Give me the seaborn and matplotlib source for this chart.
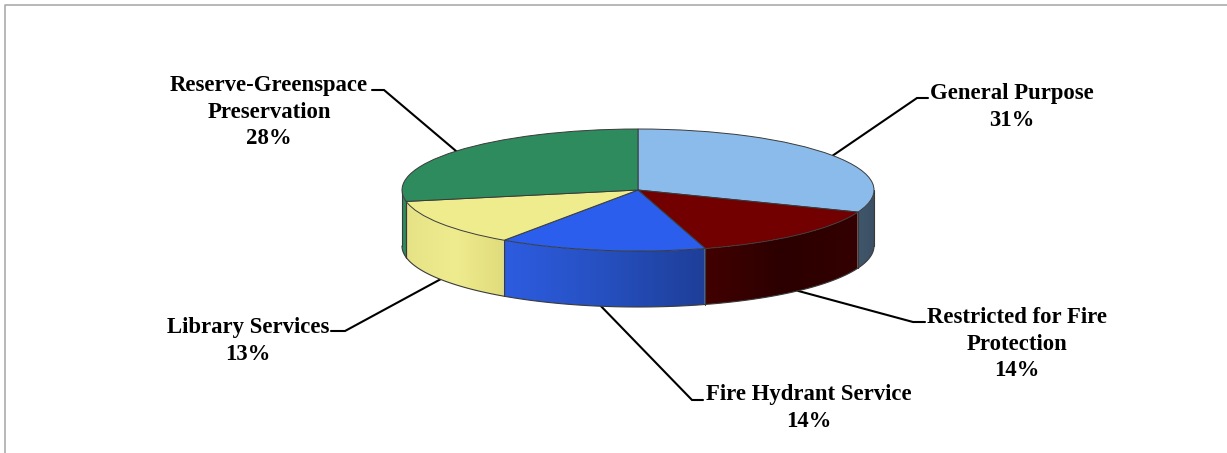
import matplotlib
matplotlib.use("Agg")
import matplotlib.pyplot as plt
from matplotlib.patches import Polygon
import numpy as np
import pandas as pd
import seaborn as sns

# --- Data ---
categories = ["General Purpose", "Restricted for Fire\nProtection", "Fire Hydrant Service",
              "Library Services", "Reserve-Greenspace\nPreservation"]
shares = [30.9, 14.5, 14.2, 12.4, 28.0]
share_labels = ["31%", "14%", "14%", "13%", "28%"]

# --- Style ---
top_colors = ["#8BBBEB", "#720000", "#2B5EEC", "#EEEC8C", "#2E8B5E"]
# left to right shading of the rim for each slice
side_colors = [["#3F566C", "#3C5064"],
               ["#420000", "#2C0000", "#330000"],
               ["#2D5CE0", "#2650C0", "#1E3E98"],
               ["#E6E386", "#EFEC8F", "#E0DC7C"],
               ["#2E8B5E", "#2E8B5E"]]
edge_color = "#3A3A3A"

# pixel layout of the picture
W, H = 1227, 453
CX, CY, RX, RY, DEPTH = 638, 190, 236, 61, 56
label_pos = [(1012, 107), (1017, 344), (809, 408), (248, 341), (269, 112)]
elbows = [[(928, 98), (917, 98)], [(925, 322), (913, 322)], [(703, 400), (692, 400)],
          [(331, 331), (345, 331)], [(372, 90), (384, 90)]]


def px(x, y):
    return (x - CX) / RX, (CY - y) / RY


df = pd.DataFrame({"category": categories, "share": shares, "label": share_labels})

sns.set_theme(style="white")
plt.rcParams["font.family"] = ["Liberation Serif", "DejaVu Serif"]

fig = plt.figure(figsize=(W / 100, H / 100), dpi=100, facecolor="white")
ax = fig.add_axes([0, 0, 1, 1])

wedges, _ = ax.pie(df["share"], startangle=90, counterclock=False,
                   colors=sns.color_palette(top_colors),
                   wedgeprops=dict(edgecolor=edge_color, linewidth=0.7, zorder=5))
depth = DEPTH / RY

# --- Rim of the slices, only the part facing the viewer ---
for wedge, stops in zip(wedges, side_colors):
    t1, t2 = wedge.theta1 % 360, wedge.theta2 % 360
    if t2 <= t1:
        t2 += 360
    # walk the slice and keep the lower half of the circle
    angles = np.radians(np.arange(t1, t2 + 0.25, 0.5))
    angles = angles[np.sin(angles) <= 0.001]
    if len(angles) < 2:
        continue
    angles = angles[np.argsort(np.cos(angles))]
    xs = np.cos(angles)
    ys = np.sin(angles)
    outline = np.vstack([np.column_stack([xs, ys]), np.column_stack([xs, ys - depth])[::-1]])
    rgb = np.array(sns.color_palette(stops))
    ramp = np.linspace(0, 1, 200)
    stop_pos = np.linspace(0, 1, len(stops))
    grad = np.stack([np.interp(ramp, stop_pos, rgb[:, c]) for c in range(3)], axis=1)[None, :, :]
    clip = Polygon(outline, closed=True, transform=ax.transData, facecolor="none", edgecolor="none")
    ax.add_patch(clip)
    img = ax.imshow(grad, extent=(xs.min(), xs.max(), ys.min() - depth, ys.max()),
                    aspect="auto", zorder=3, interpolation="bilinear")
    img.set_clip_path(clip)
    ax.plot(xs, ys - depth, color=edge_color, lw=0.8, zorder=4)
    for a in (0, -1):
        ax.plot([xs[a], xs[a]], [ys[a], ys[a] - depth], color=edge_color, lw=0.8, zorder=4)

# --- Labels and leader lines ---
for wedge, name, label, pos, elbow in zip(wedges, df["category"], df["label"], label_pos, elbows):
    mid = np.radians((wedge.theta1 + wedge.theta2) / 2)
    ax_, ay_ = np.cos(mid), np.sin(mid)
    if ay_ < 0:
        ay_ -= depth
    line = [px(*p) for p in elbow] + [(ax_, ay_)]
    ax.plot(*zip(*line), color="black", lw=1.5, zorder=2, solid_joinstyle="miter")
    tx, ty = px(*pos)
    ax.text(tx, ty, f"{name}\n{label}", ha="center", va="center", fontsize=16.4,
            fontweight="bold", color="black", linespacing=1.36)

# --- Chart area border (top and left edges show in the crop) ---
ax.plot(*zip(px(5, H), px(5, 5), px(W, 5)), color="#ABABAB", lw=1.2, zorder=1)

# squash the round pie into the tilted ellipse
ax.set_aspect("auto")
ax.set_xlim(px(0, 0)[0], px(W, 0)[0])
ax.set_ylim(px(0, H)[1], px(0, 0)[1])
ax.axis("off")

fig.savefig("out.png", dpi=100, facecolor="white")
